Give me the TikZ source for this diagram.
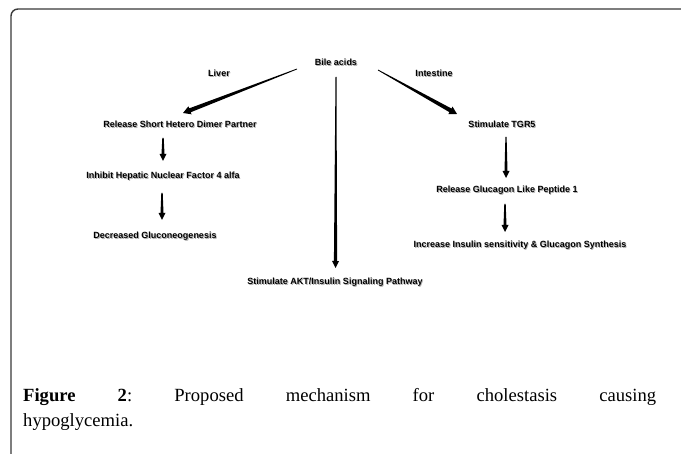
\documentclass[tikz,border=0pt]{standalone}
\usepackage{fontspec}
\setmainfont{Liberation Serif}
\newfontfamily\diagfont{Liberation Sans}
\usetikzlibrary{calc}
\definecolor{framegray}{HTML}{3A3A3A}
\definecolor{shadowgray}{HTML}{B0B0B0}
\newcommand\shtxt[1]{\makebox[0pt][l]{\raisebox{-0.9pt}{\kern0.8pt\textcolor{shadowgray}{#1}}}#1}
% from, to, start half-width, end half-width, head half-width, head length
\newcommand\wedgearr[6]{%
  \coordinate (wA) at (#1);
  \coordinate (wB) at (#2);
  \coordinate (wH) at ($(wB)!#6!(wA)$);
  \fill[arrowfill] ($(wA)!#3!90:(wB)$) -- ($(wH)!#4!-90:(wA)$) -- ($(wH)!#5!-90:(wA)$) -- (wB)
     -- ($(wH)!#5!90:(wA)$) -- ($(wH)!#4!90:(wA)$) -- ($(wA)!#3!-90:(wB)$) -- cycle;
}
\begin{document}
\begin{tikzpicture}[x=1pt,y=-1pt,
  lbl/.style={inner sep=0pt, font=\diagfont\bfseries\fontsize{9}{10}\selectfont},
  captxt/.style={inner sep=0pt, anchor=base west, font=\fontsize{18.6}{22}\selectfont},
  arrowfill/.style={fill=black}]
\useasboundingbox (0,0) rectangle (681,454);
\fill[white] (0,0) rectangle (681,454);
% frame
\draw[framegray, line width=1.4pt, rounded corners=7pt] (11,455) -- (11,9) -- (682,9);
% labels
\node[lbl] (bile) at (336,63) {\shtxt{Bile acids}};
\node[lbl] (liver) at (219,74) {\shtxt{Liver}};
\node[lbl] (intest) at (434,74) {\shtxt{Intestine}};
\node[lbl] (shp) at (180,125) {\shtxt{Release Short Hetero Dimer Partner}};
\node[lbl] (hnf) at (163,177) {\shtxt{Inhibit Hepatic Nuclear Factor 4 alfa}};
\node[lbl] (gng) at (155,237) {\shtxt{Decreased Gluconeogenesis}};
\node[lbl] (tgr) at (502,125) {\shtxt{Stimulate TGR5}};
\node[lbl] (glp) at (507,191) {\shtxt{Release Glucagon Like Peptide 1}};
\node[lbl] (ins) at (520,246) {\shtxt{Increase Insulin sensitivity \& Glucagon Synthesis}};
\node[lbl] (akt) at (335,283) {\shtxt{Stimulate AKT/Insulin Signaling Pathway}};
% arrow end points
\coordinate (lA) at (297,69);  \coordinate (lB) at (183,113);
\coordinate (cA) at (336,77);  \coordinate (cB) at (335.5,268);
\coordinate (iA) at (378,70);  \coordinate (iB) at (457,114);
\coordinate (s1A) at (163,138); \coordinate (s1B) at (163,161);
\coordinate (s2A) at (162,193); \coordinate (s2B) at (162,220);
\coordinate (t1A) at (506,137); \coordinate (t1B) at (506,178);
\coordinate (t2A) at (505,204); \coordinate (t2B) at (505,232);
% arrows
\wedgearr{lA}{lB}{0.4pt}{2.1pt}{4.3pt}{7.5pt}
\wedgearr{cA}{cB}{0.5pt}{1.6pt}{3.5pt}{7pt}
\wedgearr{iA}{iB}{0.4pt}{2.1pt}{4.3pt}{7.5pt}
\wedgearr{s1A}{s1B}{0.7pt}{1.5pt}{3.5pt}{7pt}
\wedgearr{s2A}{s2B}{0.7pt}{1.5pt}{3.5pt}{7pt}
\wedgearr{t1A}{t1B}{0.6pt}{1.5pt}{3.5pt}{7pt}
\wedgearr{t2A}{t2B}{0.7pt}{1.5pt}{3.5pt}{7pt}
% caption
\node[captxt] (cap1) at (23,402) {\hbox to 633pt{\textbf{Figure}\hfill\textbf{2}:\hfill Proposed\hfill mechanism\hfill for\hfill cholestasis\hfill causing}};
\node[captxt] (cap2) at (23,427) {hypoglycemia.};
\end{tikzpicture}
\end{document}
